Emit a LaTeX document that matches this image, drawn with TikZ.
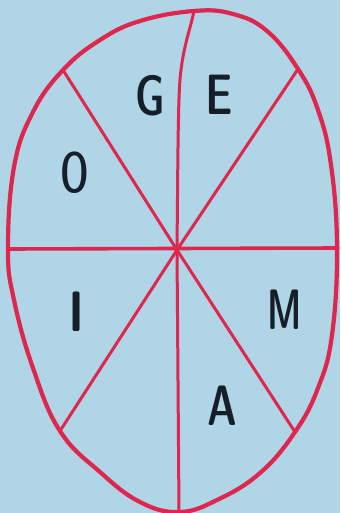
\documentclass[tikz,border=0pt]{standalone}
\usepackage{graphicx}
\definecolor{bg}{RGB}{175,213,230}
\definecolor{rim}{RGB}{222,38,78}
\definecolor{ink}{RGB}{22,30,40}
\begin{document}
\begin{tikzpicture}[x=1pt,y=-1pt,
  spoke/.style={draw=rim,line width=3pt,line cap=round},
  rimline/.style={draw=rim,line width=4.2pt},
  letter/.style={text=ink,font=\fontfamily{lmss}\fontseries{sbc}\selectfont\fontsize{57}{57}\selectfont,inner sep=0pt}]
\fill[bg] (0,0) rectangle (340,513);
\useasboundingbox (0,0) rectangle (340,513);
\begin{scope}
\clip (0,0) rectangle (340,513);
\coordinate (c) at (177,250);
\coordinate (tl) at (63,70);
\coordinate (tr) at (298,69);
\coordinate (l) at (8,249);
\coordinate (r) at (338,248);
\coordinate (bl) at (60,431);
\coordinate (br) at (295,432);
\coordinate (b) at (179,512);
\coordinate (t) at (194,11);
% spokes
\draw[spoke] (c) -- (tl);
\draw[spoke] (c) -- (tr);
\draw[spoke] (c) -- (bl);
\draw[spoke] (c) -- (br);
\draw[spoke] (c) -- (b);
\draw[spoke,line width=3.6pt] (l) -- (r);
\draw[spoke] (c) .. controls (178,150) and (178,90) .. (181,70) .. controls (184,45) and (190,30) .. (t);
% rim
\draw[rimline] plot[smooth cycle, tension=0.7] coordinates {
 (63,70) (100,40) (140,21) (194,11) (233,14) (267,31) (298,69)
 (318,110) (331,165) (337,248) (332,335) (318,388) (295,432) (260,473)
 (217,500) (179,512) (140,502) (100,472) (60,431) (33,368) (14,300)
 (8,249) (14,167) (33,112)};
\end{scope}
% letters
\node[letter] (G) at (150,96) {\scalebox{0.82}[1]{G}};
\node[letter] (E) at (219,95) {\scalebox{0.85}[1]{E}};
\node[letter] (O) at (75,173) {\scalebox{0.72}[1]{O}};
\node[letter] (I) at (77,312) {I};
\node[letter] (M) at (285,310) {\scalebox{0.72}[1]{M}};
\node[letter] (A) at (222,406) {\scalebox{0.82}[1]{A}};
\end{tikzpicture}
\end{document}
